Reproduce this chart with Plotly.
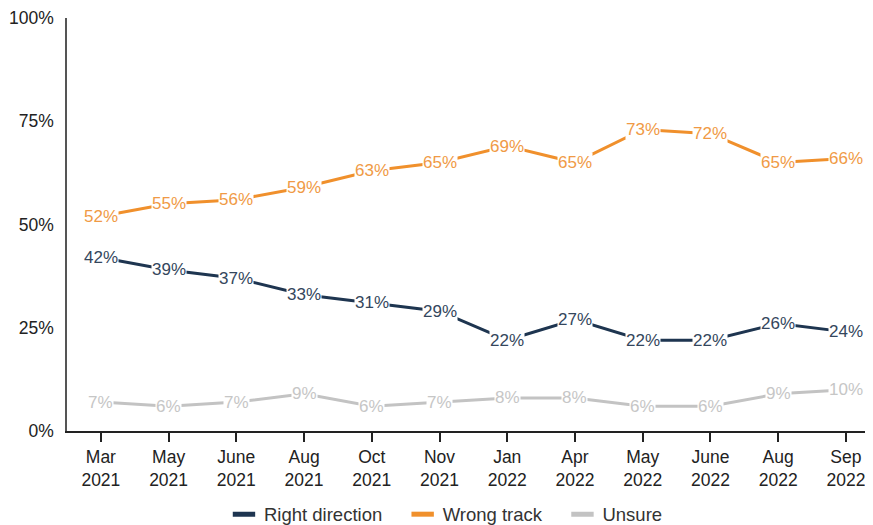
import plotly.graph_objects as go

categories = ["Mar<br>2021", "May<br>2021", "June<br>2021", "Aug<br>2021", "Oct<br>2021", "Nov<br>2021",
              "Jan<br>2022", "Apr<br>2022", "May<br>2022", "June<br>2022", "Aug<br>2022", "Sep<br>2022"]
right_direction = [42, 39, 37, 33, 31, 29, 22, 27, 22, 22, 26, 24]
wrong_track = [52, 55, 56, 59, 63, 65, 69, 65, 73, 72, 65, 66]
unsure = [7, 6, 7, 9, 6, 7, 8, 8, 6, 6, 9, 10]
y_ticks = [0, 25, 50, 75, 100]

series = [
    ("Right direction", right_direction, "#1e3550", "#34465c"),
    ("Wrong track", wrong_track, "#f0902c", "#f09a45"),
    ("Unsure", unsure, "#c3c3c3", "#c6c6c6"),
]

xs = list(range(len(categories)))
fig = go.Figure()
annotations = []
for name, vals, color, tcolor in series:
    fig.add_trace(go.Scatter(x=xs, y=vals, mode="lines", line=dict(color=color, width=3),
                             showlegend=False, hoverinfo="skip"))
    for xi, v in zip(xs, vals):
        annotations.append(dict(x=xi, y=v, xref="x", yref="y", text=f"{v}%", showarrow=False,
                                font=dict(size=17, color=tcolor, family="Liberation Sans"),
                                bgcolor="white", borderpad=0, xanchor="center", yanchor="middle"))
    fig.add_trace(go.Scatter(x=[None], y=[None], mode="markers", name=name + "\u00a0" * 3,
                             marker=dict(symbol="line-ew", size=16, line=dict(color=color, width=5))))

# page body adds an 8px offset; figure is sized to compensate
fig.update_layout(
    width=865, height=517,
    margin=dict(l=59, r=0, t=10, b=94, autoexpand=False),
    paper_bgcolor="white", plot_bgcolor="white",
    font=dict(family="Liberation Sans", size=17, color="#222"),
    annotations=annotations,
    showlegend=True,
    legend=dict(orientation="h", x=0.515, xref="container", xanchor="center",
                y=0.02, yref="container", yanchor="middle",
                font=dict(size=18.5, color="#333"), itemwidth=30, tracegroupgap=0),
    xaxis=dict(range=[-0.5, 11.4], tickmode="array", tickvals=xs, ticktext=categories,
               showgrid=False, zeroline=False, showline=True, linecolor="#222", linewidth=1.5,
               ticks="outside", ticklen=9, tickwidth=1.5, tickcolor="#222",
               tickfont=dict(size=17.5, color="#222")),
    yaxis=dict(range=[0, 100], tickmode="array", tickvals=y_ticks, ticktext=[f"{t}%" for t in y_ticks],
               showgrid=False, zeroline=False, showline=True, linecolor="#555", linewidth=1.5,
               ticks="", ticklabelstandoff=8, tickfont=dict(size=17.5, color="#222")),
)

fig.write_html("out.html")
